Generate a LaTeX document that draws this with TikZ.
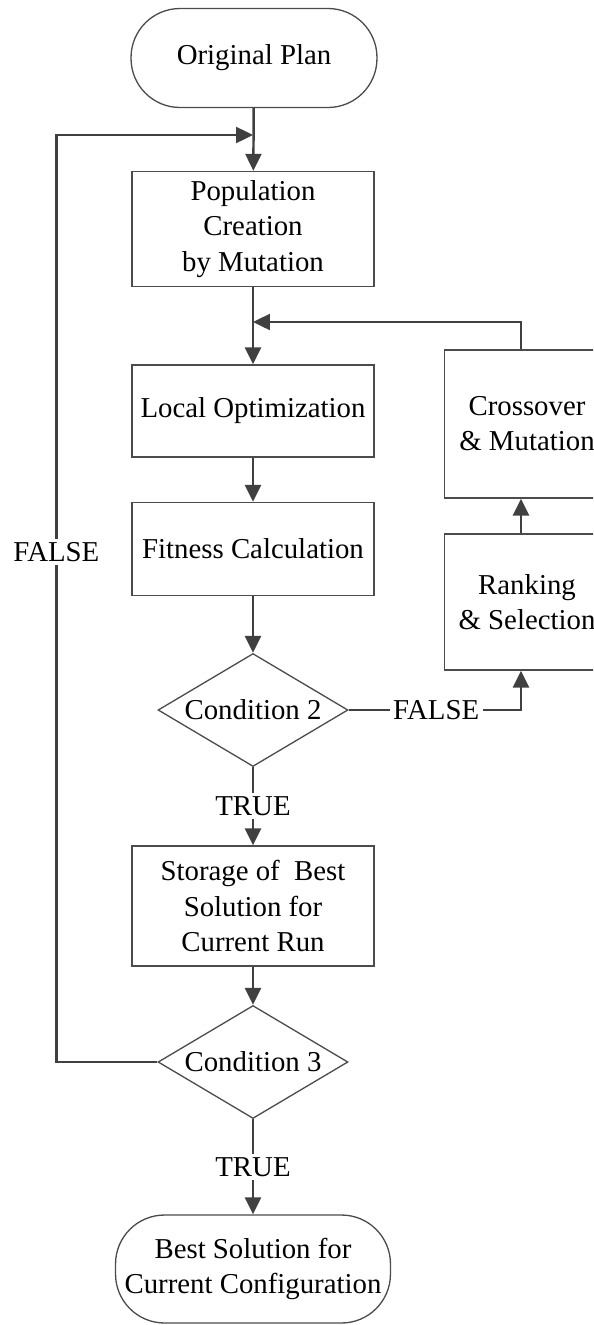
\documentclass[tikz,border=0pt]{standalone}
\usepackage{fontspec}
\setmainfont{Liberation Serif}
\usetikzlibrary{shapes.geometric,arrows.meta}

\tikzset{
  box/.style={draw=black!70,line width=.75pt,minimum width=4.84cm,inner sep=0pt,align=center},
  term/.style={box,rounded corners=.98cm},
  cond/.style={diamond,draw=black!70,line width=.75pt,minimum width=3.8cm,minimum height=2.26cm,inner sep=0pt,aspect=1.68},
  arrow/.style={draw=black!75,line width=1.4pt,-{Triangle[length=.34cm,width=.32cm]}},
  lbl/.style={fill=white,inner sep=2pt}
}

\begin{document}
\begin{tikzpicture}[x=0.02cm,y=-0.02cm,font=\fontsize{16.4}{20}\selectfont]
  \path[use as bounding box] (0,0) rectangle (593,1325);
  \clip (0,0) rectangle (593,1325);
  % main column
  \node[term,minimum width=4.92cm,minimum height=1.98cm] (orig) at (254,58) {Original Plan};
  \node[box,minimum height=2.3cm] (pop) at (253,229) {Population\\Creation\\by Mutation};
  \node[box,minimum height=1.84cm] (loc) at (253,411) {Local Optimization};
  \node[box,minimum height=1.86cm] (fit) at (253,549) {Fitness Calculation};
  \node[cond] (c2) at (253,710) {Condition 2};
  \node[box,minimum height=2.4cm] (store) at (253,906) {Storage of\ \ Best\\Solution for\\Current Run};
  \node[cond] (c3) at (253,1062) {Condition 3};
  \node[term,minimum width=5.5cm,minimum height=2.16cm] (best) at (253,1269) {Best Solution for\\Current Configuration};
  % right column, cut by the edge
  \node[box,minimum width=3.3cm,minimum height=2.96cm] (cross) at (527,424) {Crossover\\\& Mutation};
  \node[box,minimum width=3.3cm,minimum height=2.72cm] (rank) at (527,602) {Ranking\\\& Selection};
  \coordinate (j1) at (253,135);
  \coordinate (j2) at (253,322);

  \draw[arrow] (orig) -- (pop);
  \draw[arrow] (pop) -- (loc);
  \draw[arrow] (loc) -- (fit);
  \draw[arrow] (fit) -- (c2);
  \draw[arrow] (c2.south) -- node[lbl] {TRUE} (store.north);
  \draw[arrow] (store) -- (c3);
  \draw[arrow] (c3.south) -- node[lbl] {TRUE} (best.north);
  \draw[arrow] (c2.east) -| node[lbl,pos=.254] {FALSE} ([xshift=-.12cm]rank.south);
  \draw[arrow] ([xshift=-.12cm]rank.north) -- ([xshift=-.12cm]cross.south);
  \draw[arrow] ([xshift=-.12cm]cross.north) |- (j2);
  \draw[arrow] (c3.west) -- ++(-101,0) |- node[lbl,pos=.275] {FALSE} (j1);
\end{tikzpicture}
\end{document}
